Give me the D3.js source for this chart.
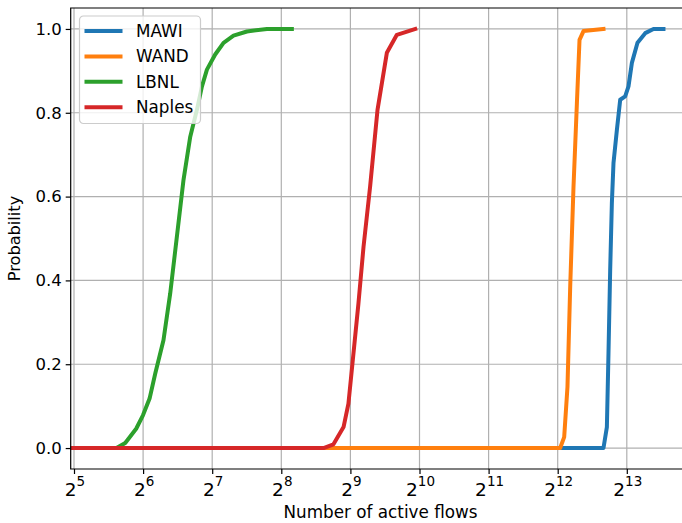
<!DOCTYPE html>
<html>
<head>
<meta charset="utf-8">
<script src="https://cdn.jsdelivr.net/npm/d3@7"></script>
<style>
  body { margin: 0; background: #fff; }
  svg { display: block; font-family: "DejaVu Sans", sans-serif; }
</style>
</head>
<body>
<div id="chart"></div>
<script>
// number of active flows (x) and cumulative probability (y)
var names = ["MAWI", "WAND", "LBNL", "Naples"];
var colors = ["#1f77b4", "#ff7f0e", "#2ca02c", "#d62728"];

var mawiX = [31, 6484, 6708, 6817, 6934, 7052, 7168, 7416, 7667, 8059, 8332, 8621, 9119, 9853, 10705, 11835];
var mawiY = [0, 0, 0.05, 0.226, 0.425, 0.584, 0.680, 0.759, 0.831, 0.839, 0.863, 0.919, 0.967, 0.99, 1.0, 1.0];

var wandX = [31, 4199, 4371, 4518, 4643, 4800, 4966, 5098, 5306, 6484];
var wandY = [0, 0, 0.026, 0.146, 0.385, 0.624, 0.823, 0.974, 0.995, 1.0];

var lbnlX = [31, 49, 53.5, 59.7, 63.9, 68.3, 72.3, 78.5, 84, 89.8, 96, 102.7, 109.8, 115.5, 121.4, 131.9, 143.4, 158.5, 181.3, 221.6, 284.6];
var lbnlY = [0, 0, 0.012, 0.046, 0.078, 0.118, 0.178, 0.257, 0.369, 0.504, 0.640, 0.743, 0.807, 0.863, 0.903, 0.939, 0.967, 0.984, 0.994, 1.0, 1.0];

var naplesX = [31, 391, 432, 478, 502, 528, 555, 584, 624, 672, 738, 816, 981];
var naplesY = [0, 0, 0.009, 0.050, 0.106, 0.226, 0.345, 0.480, 0.624, 0.807, 0.943, 0.986, 1.0];

var xTicks = [5, 6, 7, 8, 9, 10, 11, 12, 13];   // exponents of 2
var yTicks = [0, 0.2, 0.4, 0.6, 0.8, 1.0];

var series = [
  {name: names[0], color: colors[0], x: mawiX, y: mawiY},
  {name: names[1], color: colors[1], x: wandX, y: wandY},
  {name: names[2], color: colors[2], x: lbnlX, y: lbnlY},
  {name: names[3], color: colors[3], x: naplesX, y: naplesY}
];

var W = 682, H = 523;
var plotL = 70.7, plotT = 8, plotB = 469, plotR = 700;

var x = d3.scaleLog().base(2)
    .domain([32, 8192])
    .range([74, 74 + 69.1 * 8]);
var y = d3.scaleLinear()
    .domain([-0.05, 1.05])
    .range([plotB, plotT]);

var svg = d3.select("#chart").append("svg")
    .attr("width", W)
    .attr("height", H);

svg.append("defs").append("clipPath").attr("id", "clip")
  .append("rect")
    .attr("x", plotL).attr("y", plotT)
    .attr("width", plotR - plotL).attr("height", plotB - plotT);

// grid
var grid = svg.append("g").attr("class", "grid");
grid.selectAll(".gx").data(xTicks).enter().append("line")
    .attr("x1", function(d) { return x(Math.pow(2, d)); })
    .attr("x2", function(d) { return x(Math.pow(2, d)); })
    .attr("y1", plotT).attr("y2", plotB)
    .attr("stroke", "#b0b0b0").attr("stroke-width", 1.2);
grid.selectAll(".gy").data(yTicks).enter().append("line")
    .attr("y1", function(d) { return y(d); })
    .attr("y2", function(d) { return y(d); })
    .attr("x1", plotL).attr("x2", plotR)
    .attr("stroke", "#b0b0b0").attr("stroke-width", 1.2);

// lines
var line = d3.line()
    .x(function(d) { return x(d[0]); })
    .y(function(d) { return y(d[1]); });

svg.append("g").attr("clip-path", "url(#clip)")
  .selectAll("path").data(series).enter().append("path")
    .attr("d", function(s) { return line(d3.zip(s.x, s.y)); })
    .attr("fill", "none")
    .attr("stroke", function(s) { return s.color; })
    .attr("stroke-width", 4)
    .attr("stroke-linejoin", "round")
    .attr("stroke-linecap", "square");

// spines
svg.append("path")
    .attr("d", "M" + plotR + "," + plotT + "H" + plotL + "V" + plotB + "H" + plotR)
    .attr("fill", "none")
    .attr("stroke", "#000")
    .attr("stroke-width", 1.2);

// y axis
var yAxis = svg.append("g")
    .attr("transform", "translate(" + plotL + ",0)")
    .call(d3.axisLeft(y).tickValues(yTicks).tickSize(5).tickPadding(4)
      .tickFormat(d3.format(".1f")));
yAxis.select(".domain").remove();
yAxis.selectAll("line").attr("stroke-width", 1.2);
yAxis.selectAll("text")
    .attr("font-family", "DejaVu Sans")
    .attr("font-size", 16.5)
    .attr("fill", "#000");

// x axis with 2^n labels
var xAxis = svg.append("g")
    .attr("transform", "translate(0," + plotB + ")")
    .call(d3.axisBottom(x).tickValues(xTicks.map(function(e) { return Math.pow(2, e); }))
      .tickSize(5).tickFormat(""));
xAxis.select(".domain").remove();
xAxis.selectAll("line").attr("stroke-width", 1.2);

var xl = svg.append("g").selectAll("text").data(xTicks).enter().append("text")
    .attr("x", function(d) { return x(Math.pow(2, d)) + 1; })
    .attr("y", 495.5)
    .attr("text-anchor", "middle")
    .attr("font-size", 18.5)
    .attr("fill", "#000");
xl.append("tspan").text("2");
xl.append("tspan")
    .attr("dy", -10)
    .attr("font-size", 13.5)
    .text(function(d) { return d; });

// axis labels
svg.append("text")
    .attr("x", (281.7 + 479.3) / 2)
    .attr("y", 518)
    .attr("text-anchor", "middle")
    .attr("font-size", 16.8)
    .text("Number of active flows");

svg.append("text")
    .attr("transform", "translate(20," + y(0.5) + ") rotate(-90)")
    .attr("text-anchor", "middle")
    .attr("font-size", 16.2)
    .text("Probability");

// legend
var leg = svg.append("g").attr("transform", "translate(79.5,16)");
leg.append("rect")
    .attr("width", 121).attr("height", 107.5)
    .attr("rx", 4).attr("ry", 4)
    .attr("fill", "#fff").attr("fill-opacity", 0.8)
    .attr("stroke", "#cccccc").attr("stroke-width", 1.2);
var items = leg.selectAll(".item").data(series).enter().append("g")
    .attr("transform", function(d, i) { return "translate(0," + (15 + i * 25.4) + ")"; });
items.append("line")
    .attr("x1", 5).attr("x2", 43)
    .attr("stroke", function(d) { return d.color; })
    .attr("stroke-width", 4);
items.append("text")
    .attr("x", 56.5)
    .attr("dy", "0.36em")
    .attr("font-size", 16.8)
    .attr("fill", "#000")
    .text(function(d) { return d.name; });
</script>
</body>
</html>
